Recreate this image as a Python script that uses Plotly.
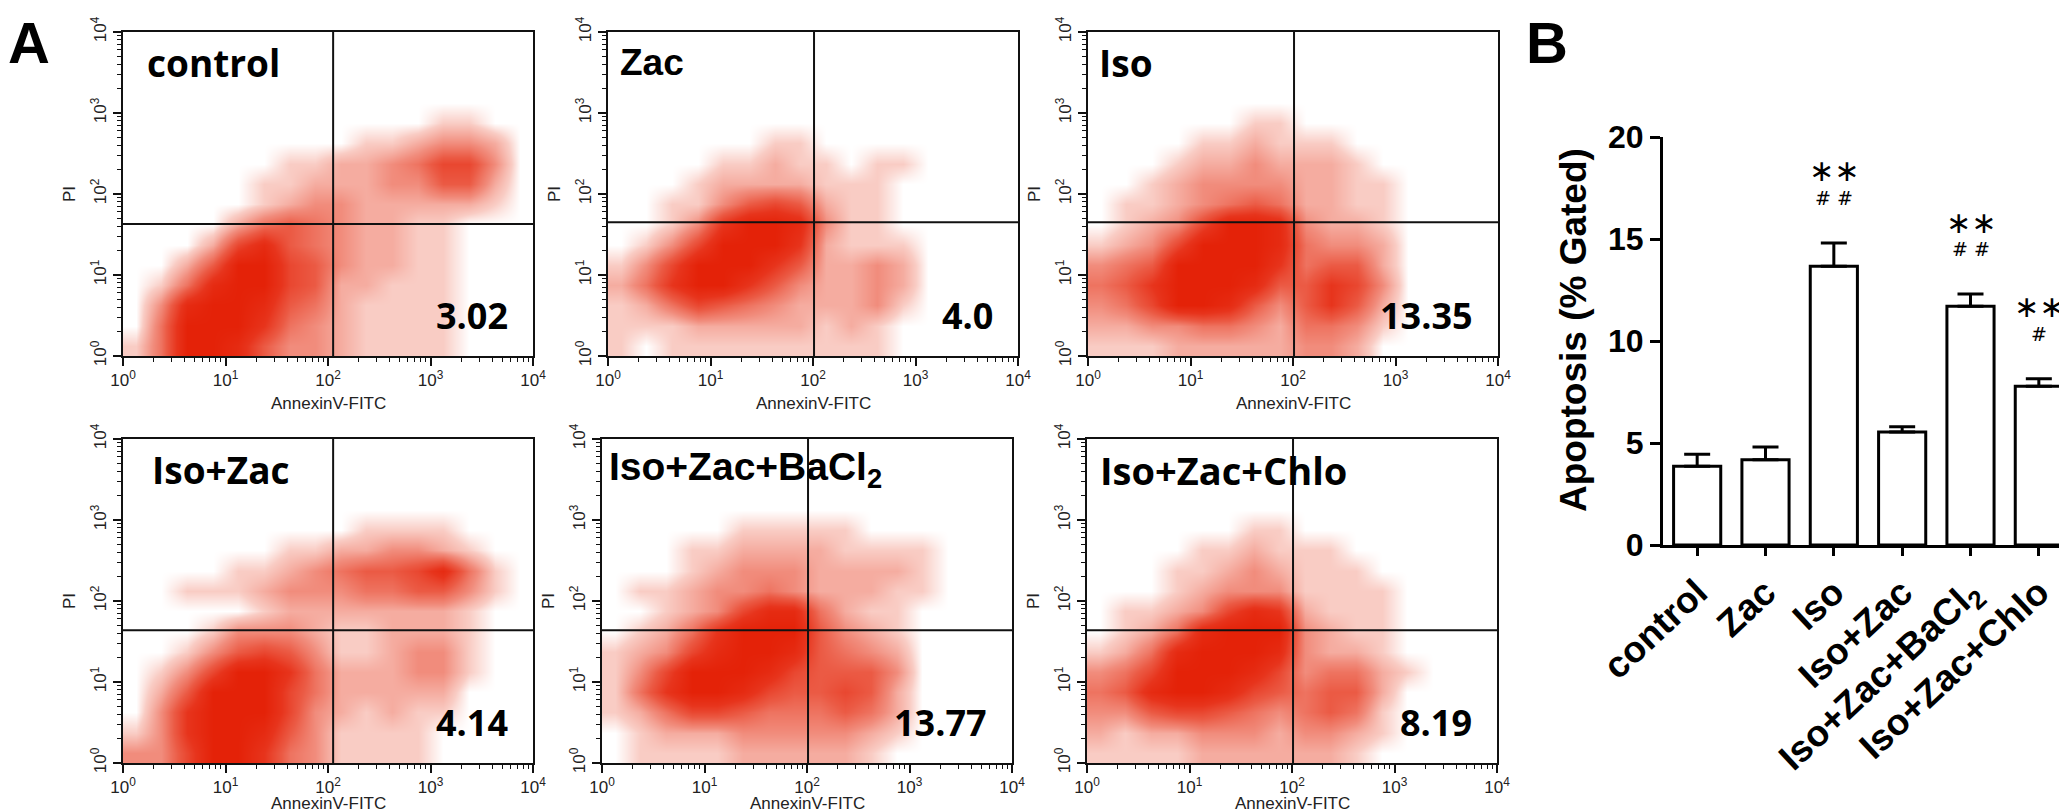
import math
import plotly.graph_objects as go

W, H = 2067, 811

# ---------------- data ----------------
groups = ["control", "Zac", "Iso", "Iso+Zac", "Iso+Zac+BaCl2", "Iso+Zac+Chlo"]
group_labels = ["control", "Zac", "Iso", "Iso+Zac", "Iso+Zac+BaCl<sub>2</sub>", "Iso+Zac+Chlo"]
apoptosis_mean = [3.86, 4.18, 13.67, 5.54, 11.70, 7.78]
apoptosis_sem = [0.59, 0.62, 1.14, 0.26, 0.60, 0.37]
sig_vs_control = ["", "", "\u2217\u2217", "", "\u2217\u2217", "\u2217\u2217"]
sig_vs_zac = ["", "", "# #", "", "# #", "#"]

quadrant_pct = ["3.02", "4.0", "13.35", "4.14", "13.77", "8.19"]
panel_names = ["control", "Zac", "Iso", "Iso+Zac", "Iso+Zac+BaCl<sub>2</sub>", "Iso+Zac+Chlo"]
gate_annexin = [2.05, 2.01, 2.01, 2.05, 2.01, 2.01]   # log10 of gate
gate_pi = [1.63, 1.65, 1.65, 1.64, 1.64, 1.64]        # log10 of gate

decade_ticks = [0, 1, 2, 3, 4]
decade_labels = ["10<sup>0</sup>", "10<sup>1</sup>", "10<sup>2</sup>", "10<sup>3</sup>", "10<sup>4</sup>"]

# event density (0 = none .. 9 = saturated),
# 16 x 16 cells of 0.25 decade; rows listed from PI 10^4 (top) down to 10^0
density_control = [
    "0000000000000000", "0000000000000000", "0000000000000000", "0000000000000000",
    "0000000000001100", "0000000001123320", "0000001122346630", "0000011222335520",
    "0000012332222210", "0000245432211000", "0002685432211000", "0025996532211000",
    "0148996522111000", "0389985421111000", "0499974321111000", "1499853321111000",
]
density_zac = [
    "0000000000000000", "0000000000000000", "0000000000000000", "0000000000000000",
    "0000000000000000", "0000001100000000", "0000112110110000", "0001222211100000",
    "0011356521100000", "0013799831100000", "0136999721110000", "1369997522320000",
    "2479975322320000", "1246543222310000", "1112222212100000", "1011111111100000",
]
density_iso = [
    "0000000000000000", "0000000000000000", "0000000000000000", "0000000000000000",
    "0000001100000000", "0000112111000000", "0001223222100000", "0012333322110000",
    "0112345422110000", "0123699832210000", "1236999843320000", "3459999745520000",
    "4579998557630000", "3469985357520000", "2233443244310000", "1112222233200000",
]
density_iso_zac = [
    "0000000000000000", "0000000000000000", "0000000000000000", "0000000000000000",
    "0000000001111000", "0000001122332100", "0000112345568410", "0011123334455310",
    "0000012222222100", "0001333211222100", "0013565311233100", "0136997422233100",
    "0259996422222000", "0379996321211000", "1379985311110000", "3369974311110000",
]
density_bacl2 = [
    "0000000000000000", "0000000000000000", "0000000000000000", "0000000000000000",
    "0000011111000000", "0001122221111000", "0001233322221000", "0112334322211000",
    "0012368842110000", "0124799953210000", "1236899854320000", "1369998655530000",
    "1479986556520000", "1246654445420000", "0122233333210000", "0111122222100000",
]
density_chlo = [
    "0000000000000000", "0000000000000000", "0000000000000000", "0000000000000000",
    "0000001100000000", "0000112111000000", "0001123211100000", "0001233311110000",
    "0112368721110000", "0124899932110000", "1248999832210000", "3469998634421000",
    "4589986545520000", "3356654345410000", "2122333233210000", "1111222222100000",
]
densities = [density_control, density_zac, density_iso, density_iso_zac, density_bacl2, density_chlo]

# ---------------- layout geometry (pixels) ----------------
panel_px = [(115, 525, 24, 348), (600, 1010, 24, 348), (1080, 1490, 24, 348),
            (115, 525, 431, 755), (594, 1004, 431, 755), (1079, 1489, 431, 755)]
name_x = [0.054, 0.025, 0.022, 0.067, 0.012, 0.027]
name_font = ["Open Sans", "Liberation Sans", "Open Sans", "Open Sans", "Liberation Sans", "Open Sans"]
name_size = [37, 37, 37, 37, 39, 38]
xtitle_shift = [-36, -36, -36, -29, -29, -29]

red_scale = [
    [0.0, "rgb(255,255,255)"],
    [1 / 9, "rgb(249,204,196)"],
    [3 / 9, "rgb(241,140,124)"],
    [5 / 9, "rgb(235,90,68)"],
    [7 / 9, "rgb(231,52,28)"],
    [1.0, "rgb(228,34,8)"],
]

cells = [0.125 + 0.25 * i for i in range(16)]
minor_vals = [d + math.log10(k) for d in range(4) for k in range(2, 10)]

fig = go.Figure()
layout = dict(
    width=W, height=H, margin=dict(l=0, r=0, t=0, b=0, autoexpand=False),
    paper_bgcolor="white", plot_bgcolor="white", showlegend=False,
    font=dict(family="Liberation Sans", color="#111"),
)
shapes = []
annotations = []

for i in range(6):
    n = i + 1
    xs = "x" if n == 1 else f"x{n}"
    ys = "y" if n == 1 else f"y{n}"
    x0, x1, y0, y1 = panel_px[i]
    z = [[int(c) for c in row] for row in reversed(densities[i])]
    fig.add_trace(go.Heatmap(
        x=cells, y=cells, z=z, zmin=0, zmax=9, colorscale=red_scale,
        zsmooth="best", showscale=False, hoverinfo="skip", xaxis=xs, yaxis=ys,
    ))
    axis_common = dict(
        range=[0, 4], tickvals=decade_ticks, ticktext=decade_labels,
        ticks="outside", ticklen=8, tickwidth=1.5, tickcolor="#111",
        minor=dict(tickvals=minor_vals, ticks="outside", ticklen=4, tickwidth=1, tickcolor="#111"),
        showline=True, linewidth=2, linecolor="#111", mirror=True, automargin=False,
        showgrid=False, zeroline=False, tickfont=dict(size=17, color="#222"),
    )
    layout["xaxis" if n == 1 else f"xaxis{n}"] = dict(
        axis_common, domain=[x0 / W, x1 / W], anchor=ys,
    )
    layout["yaxis" if n == 1 else f"yaxis{n}"] = dict(
        axis_common, domain=[1 - y1 / H, 1 - y0 / H], anchor=xs, tickangle=-90,
        title=dict(text="PI", font=dict(size=17, color="#222"), standoff=8),
    )
    annotations.append(dict(
        text="AnnexinV-FITC", xref=f"{xs} domain", yref=f"{ys} domain",
        x=0.5, y=0, xanchor="center", yanchor="top", yshift=xtitle_shift[i], showarrow=False,
        font=dict(family="Liberation Sans", size=17, color="#222"),
    ))
    shapes.append(dict(type="line", xref=xs, yref=ys, x0=gate_annexin[i], x1=gate_annexin[i],
                       y0=0, y1=4, line=dict(color="#111", width=2), layer="above"))
    shapes.append(dict(type="line", xref=xs, yref=ys, x0=0, x1=4, y0=gate_pi[i], y1=gate_pi[i],
                       line=dict(color="#111", width=2), layer="above"))
    annotations.append(dict(
        text=panel_names[i], xref=f"{xs} domain", yref=f"{ys} domain",
        x=name_x[i], y=0.905, xanchor="left", yanchor="middle", showarrow=False,
        font=dict(family=name_font[i], size=name_size[i], color="black", weight="bold"),
    ))
    annotations.append(dict(
        text=quadrant_pct[i], xref=f"{xs} domain", yref=f"{ys} domain",
        x=0.945, y=0.125, xanchor="right", yanchor="middle", showarrow=False,
        font=dict(family="Open Sans", size=36, color="black", weight="bold"),
    ))

# ---------------- bar chart (B) ----------------
bx = list(range(len(groups)))
fig.add_trace(go.Bar(
    x=bx, y=apoptosis_mean, width=0.69, xaxis="x7", yaxis="y7",
    marker=dict(color="white", line=dict(color="black", width=3)),
    error_y=dict(type="data", array=apoptosis_sem, arrayminus=[0] * len(groups),
                 symmetric=False, color="black", thickness=3, width=13),
    hoverinfo="skip",
))
layout["xaxis7"] = dict(
    domain=[1655 / W, 2065 / W], anchor="y7", range=[-0.5, 5.5], automargin=False,
    tickvals=bx, ticktext=group_labels, tickangle=-43,
    ticks="outside", ticklen=8, tickwidth=3, tickcolor="black",
    showline=True, linewidth=3, linecolor="black", showgrid=False, zeroline=False,
    tickfont=dict(family="Liberation Sans", size=37, color="black", weight="bold"),
)
layout["yaxis7"] = dict(
    domain=[1 - 537 / H, 1 - 129 / H], anchor="x7", range=[0, 20], automargin=False,
    tickvals=[0, 5, 10, 15, 20], ticks="outside", ticklen=10, tickwidth=3, tickcolor="black",
    showline=True, linewidth=3, linecolor="black", showgrid=False, zeroline=False,
    tickfont=dict(family="Liberation Sans", size=32, color="black", weight="bold"),
)
annotations.append(dict(
    text="Apoptosis (% Gated)", xref="paper", yref="paper", x=1565 / W, y=1 - 322 / H,
    textangle=-90, showarrow=False, xanchor="center", yanchor="middle",
    font=dict(family="Liberation Sans", size=37, color="black", weight="bold"),
))
for i in range(len(groups)):
    top = apoptosis_mean[i] + apoptosis_sem[i]
    if sig_vs_control[i]:
        annotations.append(dict(
            text=sig_vs_control[i], xref="x7", yref="y7", x=bx[i], y=top, yshift=72,
            showarrow=False, xanchor="center", yanchor="middle",
            font=dict(family="DejaVu Sans", size=30, color="black"),
        ))
    if sig_vs_zac[i]:
        annotations.append(dict(
            text=sig_vs_zac[i], xref="x7", yref="y7", x=bx[i], y=top, yshift=45,
            showarrow=False, xanchor="center", yanchor="middle",
            font=dict(family="DejaVu Sans", size=19, color="black"),
        ))

# panel letters
annotations.append(dict(text="A", xref="paper", yref="paper", x=21 / W, y=1,
                        showarrow=False, xanchor="center", yanchor="top",
                        font=dict(family="Liberation Sans", size=58, color="black", weight="bold")))
annotations.append(dict(text="B", xref="paper", yref="paper", x=1539 / W, y=1,
                        showarrow=False, xanchor="center", yanchor="top",
                        font=dict(family="Liberation Sans", size=58, color="black", weight="bold")))

layout["shapes"] = shapes
layout["annotations"] = annotations
fig.update_layout(**layout)
fig.write_html("out.html")
